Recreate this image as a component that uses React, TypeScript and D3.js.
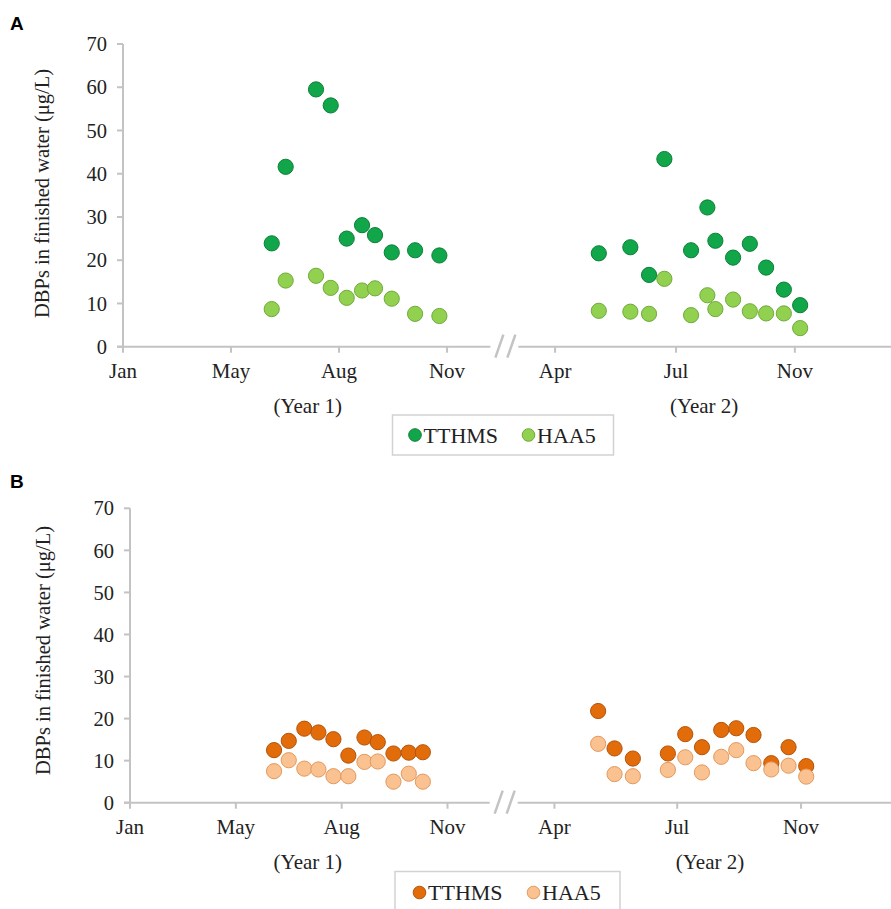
import React from "react";
import * as d3 from "d3";

// ---------- DATA ----------
const yTicks = [0, 10, 20, 30, 40, 50, 60, 70];
const monthLabels = ["Jan", "May", "Aug", "Nov", "Apr", "Jul", "Nov"];
// tick positions in axis units (one unit = spacing between year-1 ticks)
const tickPosA = [0, 1, 2, 3, 4.0, 5.12, 6.22];
const tickPosB = [0, 1, 2, 3, 4.01, 5.17, 6.34];
const yearLabels = ["(Year 1)", "(Year 2)"];
const seriesNames = ["TTHMS", "HAA5"];

// Panel A
const aY1X = [1.377, 1.506, 1.787, 1.923, 2.071, 2.213, 2.333, 2.488, 2.704, 2.929];
const aY1TTHM = [23.9, 41.6, 59.5, 55.8, 25.0, 28.1, 25.8, 21.8, 22.3, 21.1];
const aY1HAA = [8.7, 15.3, 16.4, 13.6, 11.3, 13.0, 13.5, 11.1, 7.6, 7.1];
const aY2X = [4.405, 4.697, 4.87, 5.012, 5.259, 5.41, 5.484, 5.648, 5.803, 5.954, 6.118, 6.269];
const aY2TTHM = [21.6, 23.0, 16.6, 43.4, 22.3, 32.2, 24.5, 20.6, 23.8, 18.3, 13.2, 9.6];
const aY2HAA = [8.3, 8.1, 7.6, 15.7, 7.3, 11.9, 8.7, 10.9, 8.2, 7.7, 7.7, 4.3];

// Panel B
const bY1X = [1.361, 1.5, 1.647, 1.78, 1.922, 2.063, 2.215, 2.341, 2.489, 2.634, 2.767];
const bY1TTHM = [12.5, 14.7, 17.6, 16.7, 15.1, 11.2, 15.5, 14.4, 11.7, 11.9, 12.0];
const bY1HAA = [7.5, 10.1, 8.1, 7.9, 6.3, 6.3, 9.7, 9.8, 5.0, 6.9, 5.0];
const bY2X = [4.423, 4.578, 4.751, 5.082, 5.246, 5.404, 5.586, 5.728, 5.891, 6.059, 6.222, 6.389];
const bY2TTHM = [21.8, 12.9, 10.5, 11.7, 16.3, 13.2, 17.3, 17.7, 16.1, 9.4, 13.2, 8.7];
const bY2HAA = [14.0, 6.8, 6.3, 7.8, 10.8, 7.2, 10.9, 12.5, 9.4, 7.9, 8.8, 6.2];

// ---------- STYLE ----------
const SERIF = "'Liberation Serif', 'Times New Roman', serif";
const AXIS = "#c3c3c3";

type PanelCfg = {
  letter: string;
  letterY: number;
  left: number;
  right: number;
  top: number;
  bottom: number;
  xMax: number;
  tickPos: number[];
  breakAt: number;
  yearPos: number[];
  yLabelX: number;
  yLabelY: number;
  legend: { x0: number; x1: number; y0: number; y1: number; cy: number; c1: number; c2: number };
  xs: number[][];
  tthm: number[][];
  haa: number[][];
  colors: { fill: string; stroke: string }[];
};

const panels: PanelCfg[] = [
  {
    letter: "A",
    letterY: 30,
    left: 123,
    right: 891,
    top: 44,
    bottom: 346.7,
    xMax: 7.11,
    tickPos: tickPosA,
    breakAt: 3.54,
    yearPos: [1.71, 5.38],
    yLabelX: 49,
    yLabelY: 193.5,
    legend: { x0: 392.5, x1: 613.5, y0: 415, y1: 455, cy: 435, c1: 415, c2: 528.5 },
    xs: [aY1X, aY2X],
    tthm: [aY1TTHM, aY2TTHM],
    haa: [aY1HAA, aY2HAA],
    colors: [
      { fill: "#12a64a", stroke: "#0b8038" },
      { fill: "#92d050", stroke: "#6fab3c" },
    ],
  },
  {
    letter: "B",
    letterY: 488,
    left: 130,
    right: 891,
    top: 508.3,
    bottom: 802.7,
    xMax: 7.19,
    tickPos: tickPosB,
    breakAt: 3.54,
    yearPos: [1.68, 5.48],
    yLabelX: 50,
    yLabelY: 650.5,
    legend: { x0: 395, x1: 620, y0: 871.5, y1: 930, cy: 892.5, c1: 419.5, c2: 533.5 },
    xs: [bY1X, bY2X],
    tthm: [bY1TTHM, bY2TTHM],
    haa: [bY1HAA, bY2HAA],
    colors: [
      { fill: "#e36c0a", stroke: "#b4540a" },
      { fill: "#fac191", stroke: "#e3995e" },
    ],
  },
];

function Panel({ p }: { p: PanelCfg }) {
  const x = d3.scaleLinear().domain([0, p.xMax]).range([p.left, p.right]);
  const y = d3.scaleLinear().domain([0, 70]).range([p.bottom, p.top]);
  const bx = x(p.breakAt);
  const pts = (xs: number[], vs: number[]) => xs.map((xv, i) => [x(xv), y(vs[i])]);
  const series = [p.tthm, p.haa];
  return (
    <g>
      <text x={10} y={p.letterY} fontFamily="'Liberation Sans', Arial, sans-serif" fontWeight="bold" fontSize={19} fill="#000">
        {p.letter}
      </text>
      {/* y axis */}
      <line x1={p.left} x2={p.left} y1={p.top} y2={p.bottom} stroke={AXIS} strokeWidth={2} />
      {yTicks.map((t) => (
        <g key={t}>
          <line x1={p.left - 6} x2={p.left} y1={y(t)} y2={y(t)} stroke={AXIS} strokeWidth={2} />
          <text x={p.left - 16} y={y(t)} dy="0.35em" textAnchor="end" fontFamily={SERIF} fontSize={20.5} fill="#222">
            {t}
          </text>
        </g>
      ))}
      <text
        transform={`translate(${p.yLabelX},${p.yLabelY}) rotate(-90)`}
        textAnchor="middle"
        fontFamily={SERIF}
        fontSize={20.5}
        fill="#222"
      >
        DBPs in finished water (μg/L)
      </text>
      {/* x axis with break */}
      <line x1={p.left - 6} x2={bx - 15} y1={p.bottom} y2={p.bottom} stroke={AXIS} strokeWidth={2} />
      <line x1={bx + 13} x2={p.right} y1={p.bottom} y2={p.bottom} stroke={AXIS} strokeWidth={2} />
      {[-6, 6].map((o) => (
        <line key={o} x1={bx + o - 4} x2={bx + o + 4} y1={p.bottom + 11} y2={p.bottom - 12} stroke={AXIS} strokeWidth={2.5} />
      ))}
      {p.tickPos.map((tp, i) => (
        <g key={i}>
          <line x1={x(tp)} x2={x(tp)} y1={p.bottom} y2={p.bottom + 6} stroke={AXIS} strokeWidth={2} />
          <text x={x(tp)} y={p.bottom + 31} textAnchor="middle" fontFamily={SERIF} fontSize={21} fill="#222">
            {monthLabels[i]}
          </text>
        </g>
      ))}
      {yearLabels.map((yl, i) => (
        <text key={yl} x={x(p.yearPos[i])} y={p.bottom + 66} textAnchor="middle" fontFamily={SERIF} fontSize={21} fill="#222">
          {yl}
        </text>
      ))}
      {[0, 1].map((yr) =>
        [0, 1].map((s) =>
          pts(p.xs[yr], series[s][yr]).map(([cx, cy], i) => (
            <circle
              key={`${yr}-${s}-${i}`}
              cx={cx}
              cy={cy}
              r={7.6}
              fill={p.colors[s].fill}
              stroke={p.colors[s].stroke}
              strokeWidth={1}
            />
          ))
        )
      )}
      {/* legend */}
      <rect
        x={p.legend.x0}
        y={p.legend.y0}
        width={p.legend.x1 - p.legend.x0}
        height={p.legend.y1 - p.legend.y0}
        fill="#fff"
        stroke="#d2d2d2"
        strokeWidth={1.5}
      />
      {seriesNames.map((n, i) => {
        const cx = i === 0 ? p.legend.c1 : p.legend.c2;
        return (
          <g key={n}>
            <circle cx={cx} cy={p.legend.cy} r={6.3} fill={p.colors[i].fill} stroke={p.colors[i].stroke} strokeWidth={1} />
            <text x={cx + 8.5} y={p.legend.cy} dy="0.35em" fontFamily={SERIF} fontSize={22} fill="#222">
              {n}
            </text>
          </g>
        );
      })}
    </g>
  );
}

export default function App() {
  return (
    <svg
      width={891}
      height={909}
      viewBox="0 0 891 909"
      style={{ position: "absolute", left: 0, top: 0, display: "block", background: "#fff" }}
    >
      <rect width={891} height={909} fill="#fff" />
      {panels.map((p) => (
        <Panel key={p.letter} p={p} />
      ))}
    </svg>
  );
}
